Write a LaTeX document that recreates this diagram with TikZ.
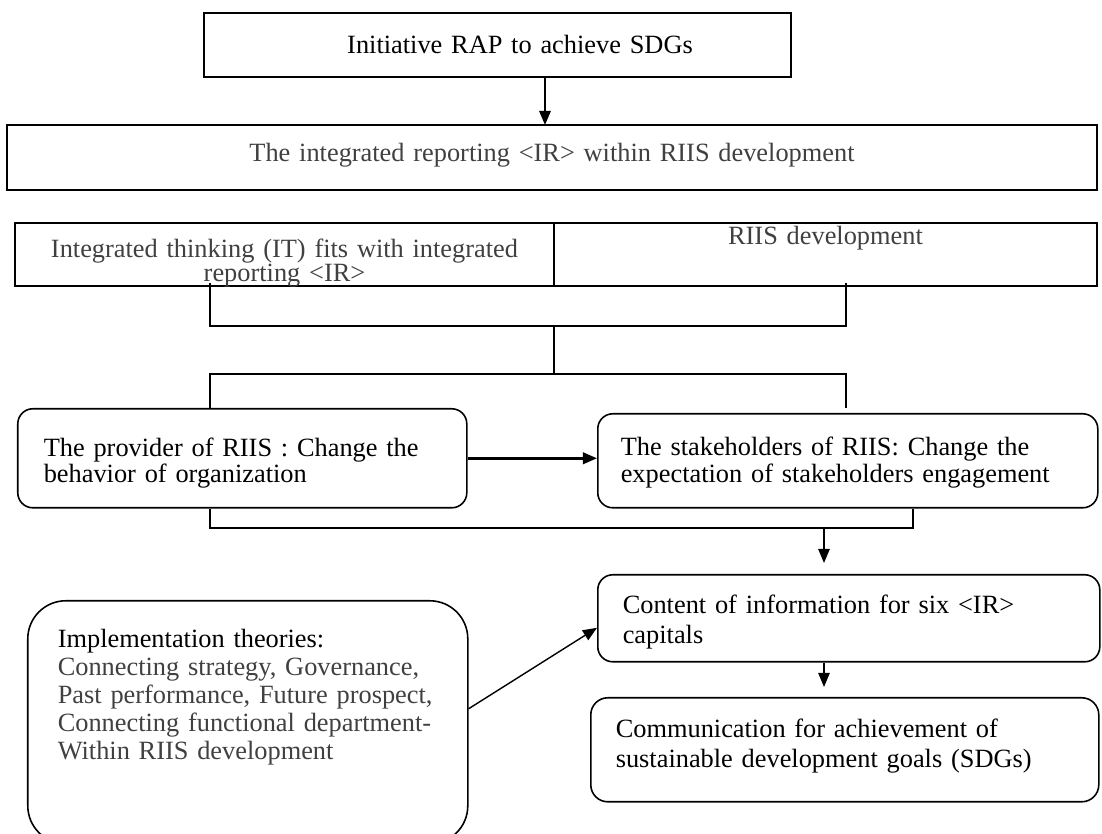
\documentclass[tikz,border=0pt]{standalone}
\usepackage{fontspec}
\setmainfont{Liberation Serif}
\usetikzlibrary{positioning, arrows.meta}
\definecolor{txtgray}{HTML}{404040}

\begin{document}
\begin{tikzpicture}[
    sqbox/.style={draw, line width=1pt, outer sep=0pt, anchor=north west, inner xsep=0pt, inner ysep=0pt, align=center, font=\fontsize{15pt}{15.3pt}\selectfont},
    rbox/.style={draw, line width=0.9pt, rounded corners=0.3cm, anchor=north west, inner ysep=0pt, align=left, font=\fontsize{15pt}{15.3pt}\selectfont},
    link/.style={line width=0.6pt},
    arr/.style={line width=0.8pt, -{Triangle[length=8pt, width=6.5pt]}},
  ]
    \useasboundingbox (0,0) rectangle (22.04,16.68);

    % Top boxes
    \node[sqbox, text width=11.74cm, text height=0.82cm, text depth=0.46cm] (initiative) at (4.08,16.42) {\hspace*{0.9cm}Initiative RAP to achieve SDGs};
    \node[sqbox, text width=21.8cm, text height=0.74cm, text depth=0.56cm, text=txtgray] (ir) at (0.14,14.18) {The integrated reporting <IR> within RIIS development};

    % Two cells side by side
    \node[sqbox, text width=10.78cm, text height=0.70cm, text depth=0.56cm, text=txtgray, font=\fontsize{15pt}{13.6pt}\selectfont] (thinking) at (0.30,12.22) {Integrated thinking (IT) fits with integrated\\ reporting <IR>};
    \node[sqbox, text width=10.86cm, text height=0.44cm, text depth=0.82cm, text=txtgray, right=0pt of thinking] (riis) {RIIS development};

    % Provider and stakeholders
    \node[rbox, text width=7.94cm, inner xsep=0.52cm, text height=0.96cm, text depth=1.02cm, font=\fontsize{15pt}{14.7pt}\selectfont] (provider) at (0.34,8.52) {The provider of RIIS : Change the\\ behavior of organization};
    \node[rbox, text width=9.08cm, inner xsep=0.46cm, text height=0.84cm, text depth=1.04cm] (stake) at (11.94,8.42) {The stakeholders of RIIS: Change the\\ expectation of stakeholders engagement};

    % Lower boxes
    \node[rbox, text width=9.04cm, inner xsep=0.5cm, text height=0.78cm, text depth=0.96cm, font=\fontsize{15pt}{17pt}\selectfont] (content) at (11.94,5.20) {Content of information for six <IR>\\ capitals};
    \node[rbox, rounded corners=0.34cm, text width=9.16cm, inner xsep=0.5cm, text height=0.80cm, text depth=1.28cm, font=\fontsize{15pt}{17pt}\selectfont] (comm) at (11.80,2.74) {Communication for achievement of\\ sustainable development goals (SDGs)};
    \node[rbox, rounded corners=0.76cm, text width=7.6cm, inner xsep=0.6cm, text height=0.94cm, text depth=3.92cm, font=\fontsize{15pt}{15.9pt}\selectfont] (impl) at (0.54,4.68) {Implementation theories:\\ {\color{txtgray}Connecting strategy, Governance,\\ Past performance, Future prospect,\\ Connecting functional department-\\ Within RIIS development}};

    % Joints of the brackets
    \coordinate (jointop) at (11.08,10.16);
    \coordinate (jointbot) at (11.08,9.20);
    \coordinate (jointlow) at (16.48,6.12);

    % Brackets
    \draw[link] ([xshift=3.9cm, yshift=0.06cm]thinking.south west) |- (jointop) -| ([xshift=5.84cm, yshift=0.06cm]riis.south west);
    \draw[link] (jointop) -- (jointbot);
    \draw[link] ([xshift=3.86cm]provider.north west) |- (jointbot) -| ([xshift=4.98cm, yshift=0.1cm]stake.north west);
    \draw[link] ([xshift=3.86cm]provider.south west) |- (jointlow) -| ([xshift=6.32cm]stake.south west);

    % Arrows
    \draw[arr, line width=1pt] ([xshift=0.95cm]initiative.south) -- ([xshift=0.95cm]initiative.south |- ir.north);
    \draw[arr, line width=1.4pt] (provider.east) -- (provider.east -| stake.west);
    \draw[arr] (jointlow) -- ([yshift=0.22cm]jointlow |- content.north);
    \draw[arr] (content.south -| jointlow) -- ([yshift=0.2cm]jointlow |- comm.north);
    \draw[arr] ([yshift=0.27cm]impl.east) -- ([yshift=-0.19cm]content.west);
\end{tikzpicture}
\end{document}
